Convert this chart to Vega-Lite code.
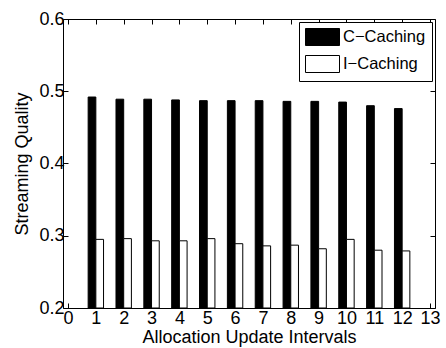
{
  "$schema": "https://vega.github.io/schema/vega-lite/v6.json",
  "width": 372,
  "height": 289,
  "autosize": "none",
  "padding": {"left": 63, "top": 19, "right": 11, "bottom": 40},
  "background": "white",
  "config": {
    "font": "Liberation Sans",
    "view": {"stroke": "black", "strokeWidth": 1},
    "axis": {
      "domain": false,
      "grid": false,
      "tickColor": "black",
      "tickSize": -5,
      "tickWidth": 1,
      "labelColor": "black",
      "labelFontSize": 18,
      "labelFont": "Liberation Sans",
      "titleColor": "black",
      "titleFontSize": 18,
      "titleFontWeight": "normal",
      "titleFont": "Liberation Sans"
    }
  },
  "data": {
    "values": [
      {"interval": 1, "series": "C−Caching", "quality": 0.492},
      {"interval": 2, "series": "C−Caching", "quality": 0.489},
      {"interval": 3, "series": "C−Caching", "quality": 0.489},
      {"interval": 4, "series": "C−Caching", "quality": 0.488},
      {"interval": 5, "series": "C−Caching", "quality": 0.487},
      {"interval": 6, "series": "C−Caching", "quality": 0.487},
      {"interval": 7, "series": "C−Caching", "quality": 0.487},
      {"interval": 8, "series": "C−Caching", "quality": 0.486},
      {"interval": 9, "series": "C−Caching", "quality": 0.486},
      {"interval": 10, "series": "C−Caching", "quality": 0.485},
      {"interval": 11, "series": "C−Caching", "quality": 0.480},
      {"interval": 12, "series": "C−Caching", "quality": 0.476},
      {"interval": 1, "series": "I−Caching", "quality": 0.295},
      {"interval": 2, "series": "I−Caching", "quality": 0.296},
      {"interval": 3, "series": "I−Caching", "quality": 0.293},
      {"interval": 4, "series": "I−Caching", "quality": 0.293},
      {"interval": 5, "series": "I−Caching", "quality": 0.296},
      {"interval": 6, "series": "I−Caching", "quality": 0.289},
      {"interval": 7, "series": "I−Caching", "quality": 0.286},
      {"interval": 8, "series": "I−Caching", "quality": 0.287},
      {"interval": 9, "series": "I−Caching", "quality": 0.282},
      {"interval": 10, "series": "I−Caching", "quality": 0.295},
      {"interval": 11, "series": "I−Caching", "quality": 0.280},
      {"interval": 12, "series": "I−Caching", "quality": 0.279}
    ]
  },
  "encoding": {
    "y2": {"datum": 0.2},
    "fill": {
      "field": "series",
      "type": "nominal",
      "scale": {"domain": ["C−Caching", "I−Caching"], "range": ["black", "white"]},
      "legend": {
        "title": null,
        "orient": "top-right",
        "offset": 3,
        "strokeColor": "black",
        "fillColor": "white",
        "padding": 6,
        "symbolType": "M-1,-1H3V1H-1Z",
        "symbolSize": 289,
        "symbolStrokeColor": "black",
        "symbolStrokeWidth": 1,
        "labelFontSize": 16.5,
        "labelFont": "Liberation Sans",
        "labelColor": "black",
        "labelOffset": 20,
        "rowPadding": 5
      }
    }
  },
  "layer": [
    {
      "transform": [{"filter": "datum.series == 'C−Caching'"}],
      "mark": {"type": "bar", "width": 7.7, "xOffset": -3.85, "stroke": "black", "strokeWidth": 1},
      "encoding": {
        "x": {
          "field": "interval",
          "type": "quantitative",
          "scale": {"domain": [0, 13], "nice": false, "zero": false},
          "axis": {
            "orient": "bottom",
            "values": [0, 1, 2, 3, 4, 5, 6, 7, 8, 9, 10, 11, 12, 13],
            "labelPadding": 6,
            "title": "Allocation Update Intervals",
            "titlePadding": 1
          }
        },
        "y": {
          "field": "quality",
          "type": "quantitative",
          "scale": {"domain": [0.2, 0.6], "nice": false, "zero": false},
          "axis": {
            "orient": "left",
            "values": [0.2, 0.3, 0.4, 0.5, 0.6],
            "format": ".1f",
            "labelPadding": 4,
            "title": "Streaming Quality",
            "titlePadding": 7
          }
        }
      }
    },
    {
      "transform": [{"filter": "datum.series == 'I−Caching'"}],
      "mark": {"type": "bar", "width": 7.7, "xOffset": 3.85, "stroke": "black", "strokeWidth": 1},
      "encoding": {
        "x": {
          "field": "interval",
          "type": "quantitative",
          "scale": {"domain": [0, 13], "nice": false, "zero": false},
          "axis": {
            "orient": "top",
            "values": [0, 1, 2, 3, 4, 5, 6, 7, 8, 9, 10, 11, 12, 13],
            "labels": false,
            "title": null
          }
        },
        "y": {
          "field": "quality",
          "type": "quantitative",
          "scale": {"domain": [0.2, 0.6], "nice": false, "zero": false},
          "axis": {
            "orient": "right",
            "values": [0.2, 0.3, 0.4, 0.5, 0.6],
            "labels": false,
            "title": null
          }
        }
      }
    }
  ],
  "resolve": {"axis": {"x": "independent", "y": "independent"}}
}
